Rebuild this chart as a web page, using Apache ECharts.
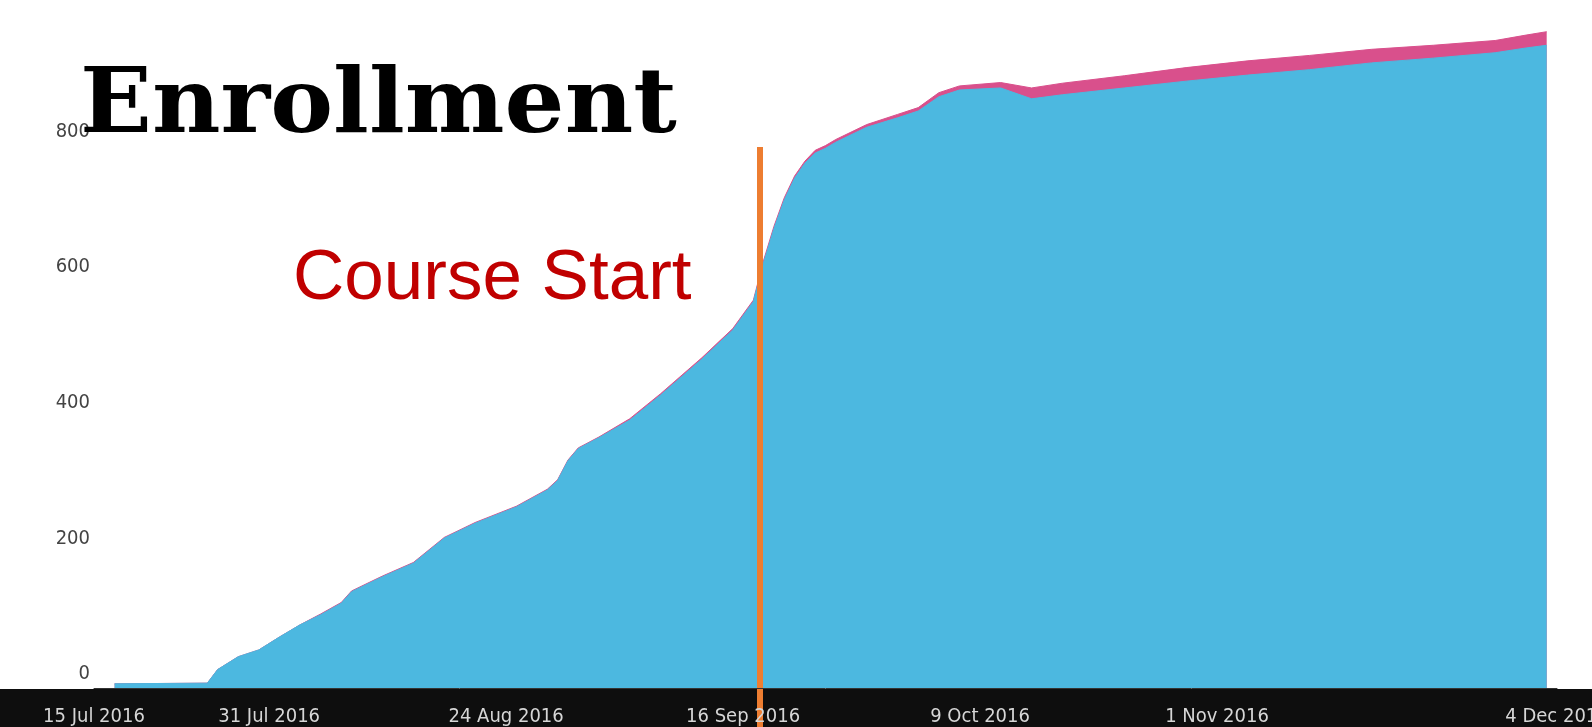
<!DOCTYPE html>
<html>
<head>
<meta charset="utf-8">
<script src="https://cdn.jsdelivr.net/npm/echarts@6/dist/echarts.min.js"></script>
<style>
html,body{margin:0;padding:0;background:#fff;}
#chart{width:1592px;height:727px;}
</style>
</head>
<body>
<div id="chart"></div>
<script>
// ---- data ----
const dates = ['2016-07-17','2016-07-26','2016-07-27','2016-07-29','2016-07-31','2016-08-02','2016-08-04','2016-08-06','2016-08-08','2016-08-09','2016-08-12','2016-08-15','2016-08-18','2016-08-21','2016-08-25','2016-08-28','2016-08-29','2016-08-30','2016-08-31','2016-09-02','2016-09-05','2016-09-08','2016-09-12','2016-09-15','2016-09-16','2016-09-17','2016-09-18','2016-09-19','2016-09-20','2016-09-21','2016-09-22','2016-09-23','2016-09-24','2016-09-25','2016-09-28','2016-10-01','2016-10-03','2016-10-05','2016-10-07','2016-10-11','2016-10-14','2016-10-17','2016-10-23','2016-10-29','2016-11-04','2016-11-10','2016-11-16','2016-11-22','2016-11-28','2016-12-01','2016-12-03'];
const enrolled = [6,7,27,46,56,75,93,108,125,142,164,184,221,243,267,292,306,335,353,369,395,432,485,528,549,570,628,678,720,752,774,789,796,805,827,841,851,872,882,885,869,875,885,895,904,912,922,929,937,944,948];
const unenrolled = [0,0,0,0,0,0,0,1,1,1,1,1,1,1,1,1,1,1,1,1,2,2,2,2,2,2,3,3,3,3,3,4,4,4,4,5,5,6,6,8,16,17,18,20,21,21,20,19,18,19,20];
const tickDates = ['2016-07-15','2016-08-01','2016-08-24','2016-09-16','2016-10-09','2016-11-01','2016-12-04'];
const tickLabels = ['15 Jul 2016','31 Jul 2016','24 Aug 2016','16 Sep 2016','9 Oct 2016','1 Nov 2016','4 Dec 2016'];
const yTicks = [0,200,400,600,800];
const axisStart = '2016-07-15';
const axisEnd = '2016-12-04';
const yMin = -57.7;
const yMax = 1000;
const courseStartDate = '2016-09-17T15:00:00';
const courseStartTop = 798;

// ---- build: x as days since axisStart ----
const DAY = 86400000;
const ts = s => Date.parse(s.length === 10 ? s + 'T00:00:00Z' : s + 'Z');
const day = s => (ts(s) - ts(axisStart)) / DAY;
const tickDays = tickDates.map(day);
const enrolledData = dates.map((d, i) => [day(d), enrolled[i]]);
// unenrolled band sits on top of the enrolled area: draw the total behind it
const totalData = dates.map((d, i) => [day(d), enrolled[i] + unenrolled[i]]);
const narrow = "'Liberation Sans Narrow','DejaVu Sans Condensed',sans-serif";

const chart = echarts.init(document.getElementById('chart'));
chart.setOption({
  animation: false,
  backgroundColor: '#ffffff',
  grid: {left: 94, right: 35, top: 10, bottom: 0, outerBoundsMode: 'none', containLabel: false},
  xAxis: {
    type: 'value',
    min: 0,
    max: day(axisEnd),
    z: 10,
    position: 'bottom',
    offset: -39,
    axisLine: {show: true, onZero: false, lineStyle: {color: '#333', width: 1}},
    axisTick: {show: false},
    splitLine: {show: false},
    axisLabel: {
      customValues: tickDays,
      showMinLabel: true,
      showMaxLabel: true,
      hideOverlap: false,
      margin: 19,
      color: '#d6d6d6',
      fontFamily: narrow,
      fontSize: 20,
      formatter: function (v) {
        let best = 0;
        for (let i = 1; i < tickDays.length; i++) {
          if (Math.abs(tickDays[i] - v) < Math.abs(tickDays[best] - v)) best = i;
        }
        return Math.abs(tickDays[best] - v) < 0.01 ? tickLabels[best] : '';
      }
    }
  },
  yAxis: {
    type: 'value',
    min: yMin,
    max: yMax,
    axisLine: {show: false},
    axisTick: {show: false, customValues: yTicks},
    splitLine: {show: false},
    axisLabel: {
      customValues: yTicks,
      margin: 4,
      color: '#444',
      fontFamily: narrow,
      fontSize: 20,
      verticalAlign: 'bottom',
      lineHeight: 28
    }
  },
  graphic: [
    {type: 'rect', z: 1, shape: {x: 0, y: 689, width: 1592, height: 38}, style: {fill: '#0e0e0e'}},
    {type: 'text', z: 20, x: 80, y: 109, scaleX: 1.06, style: {text: 'Enrollment', fill: '#000', font: "bold 89px 'DejaVu Serif', serif", verticalAlign: 'middle', align: 'left'}},
    {type: 'text', z: 20, x: 293, y: 279, style: {text: 'Course Start', fill: '#c00000', font: "71px 'Liberation Sans', Arial, sans-serif", verticalAlign: 'middle', align: 'left'}}
  ],
  series: [
    {
      name: 'Enrolled',
      type: 'line',
      z: 3,
      showSymbol: false,
      symbol: 'none',
      lineStyle: {width: 1, color: '#4cb8e0'},
      itemStyle: {color: '#4cb8e0'},
      areaStyle: {color: '#4cb8e0', opacity: 1, origin: 0},
      data: enrolledData,
      markLine: {
        silent: true,
        symbol: ['none', 'none'],
        label: {show: false},
        lineStyle: {color: '#ed7d31', width: 6, type: 'solid', opacity: 1},
        data: [[{coord: [day(courseStartDate), courseStartTop]}, {coord: [day(courseStartDate), yMin]}]]
      }
    },
    {
      name: 'Unenrolled',
      type: 'line',
      z: 2,
      showSymbol: false,
      symbol: 'none',
      lineStyle: {width: 1, color: '#d9508c'},
      itemStyle: {color: '#d9508c'},
      areaStyle: {color: '#d9508c', opacity: 1, origin: 0},
      data: totalData
    }
  ]
});
</script>
</body>
</html>
